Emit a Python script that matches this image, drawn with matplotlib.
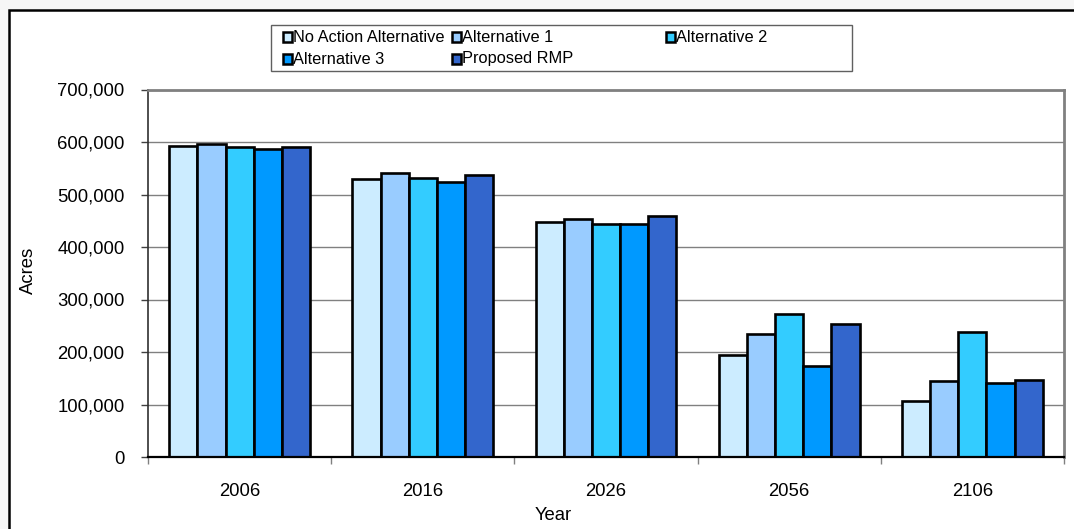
import matplotlib
matplotlib.use("Agg")
import matplotlib.pyplot as plt
from matplotlib.patches import Rectangle
from matplotlib.ticker import FuncFormatter, FixedLocator
import numpy as np

plt.rcParams['font.family'] = ['Liberation Sans', 'DejaVu Sans']

years = ["2006", "2016", "2026", "2056", "2106"]
series_names = ["No Action Alternative", "Alternative 1", "Alternative 2",
                "Alternative 3", "Proposed RMP"]
no_action = [593000, 530000, 447000, 194000, 107000]
alt1 = [596000, 541000, 453000, 235000, 145000]
alt2 = [590000, 531000, 444000, 272000, 239000]
alt3 = [586000, 524000, 444000, 173000, 141000]
proposed = [590000, 537000, 459000, 254000, 146000]
series_values = [no_action, alt1, alt2, alt3, proposed]
colors = ["#CCECFF", "#99CCFF", "#33CCFF", "#0099FF", "#3366CC"]

W, H = 1074, 529
fig = plt.figure(figsize=(W / 100, H / 100), dpi=100)
fig.patch.set_facecolor("#f6f6f6")

# chart frame (extends past right and bottom edges)
fig.patches.append(Rectangle((9 / W, -0.2), 1.2, 1 - 10 / H + 0.2,
                             transform=fig.transFigure, facecolor="white",
                             edgecolor="black", linewidth=1.8, zorder=-10))

left, right, top, bottom = 148 / W, 1064 / W, 1 - 89.5 / H, 1 - 457 / H
ax = fig.add_axes([left, bottom, right - left, top - bottom])
ax.set_facecolor("white")

n = len(series_names)
w = 1 / 6.5
centers = np.arange(len(years)) + 0.5
for j, (name, vals, c) in enumerate(zip(series_names, series_values, colors)):
    ax.bar(centers + (j - (n - 1) / 2) * w, vals, width=w, color=c,
           edgecolor="black", linewidth=1.9, label=name, zorder=3)

ax.set_xlim(0, len(years))
ax.set_ylim(0, 700000)
ax.yaxis.set_major_locator(FixedLocator(np.arange(0, 700001, 100000)))
ax.yaxis.set_major_formatter(FuncFormatter(lambda v, p: f"{int(v):,}"))
ax.grid(axis="y", color="#808080", linewidth=1.0, zorder=0)
ax.set_axisbelow(True)

ax.set_xticks(np.arange(len(years) + 1))
ax.set_xticklabels([])
ax.set_xticks(centers, minor=True)
ax.set_xticklabels(years, minor=True)
ax.tick_params(axis="x", which="major", length=5, width=1, color="#808080", direction="out")
ax.tick_params(axis="x", which="minor", length=0, pad=19, labelsize=13.3)
ax.tick_params(axis="y", length=5, width=1, color="#404040", direction="out",
               pad=12, labelsize=13.3)

for side in ("top", "right"):
    ax.spines[side].set_color("#808080")
    ax.spines[side].set_linewidth(2)
ax.spines["left"].set_color("#303030")
ax.spines["left"].set_linewidth(1.2)
ax.spines["bottom"].set_color("black")
ax.spines["bottom"].set_linewidth(1.6)
ax.spines["bottom"].set_zorder(4)

fig.text(553 / W, 1 - 515 / H, "Year", ha="center", va="center", fontsize=13.3)
fig.text(28 / W, 1 - 270 / H, "Acres", ha="center", va="center",
         rotation=90, fontsize=13.3)

# legend box with entries laid out in rows
fig.patches.append(Rectangle((271 / W, 1 - 71 / H), (852 - 271) / W, (71 - 25) / H,
                             transform=fig.transFigure, facecolor="white",
                             edgecolor="#606060", linewidth=1.0, zorder=5))
entry_pos = [(287, 37), (456, 37), (670, 37), (287, 59), (456, 59)]
for (px, py), name, c in zip(entry_pos, series_names, colors):
    s = 9
    fig.patches.append(Rectangle(((px - s / 2) / W, 1 - (py + s / 2) / H), s / W, s / H,
                                 transform=fig.transFigure, facecolor=c,
                                 edgecolor="black", linewidth=1.8, zorder=6))
    fig.text((px + 6) / W, 1 - py / H, name, ha="left", va="center",
             fontsize=11.8, zorder=7)

fig.savefig("out.png", dpi=100, facecolor=fig.get_facecolor())
